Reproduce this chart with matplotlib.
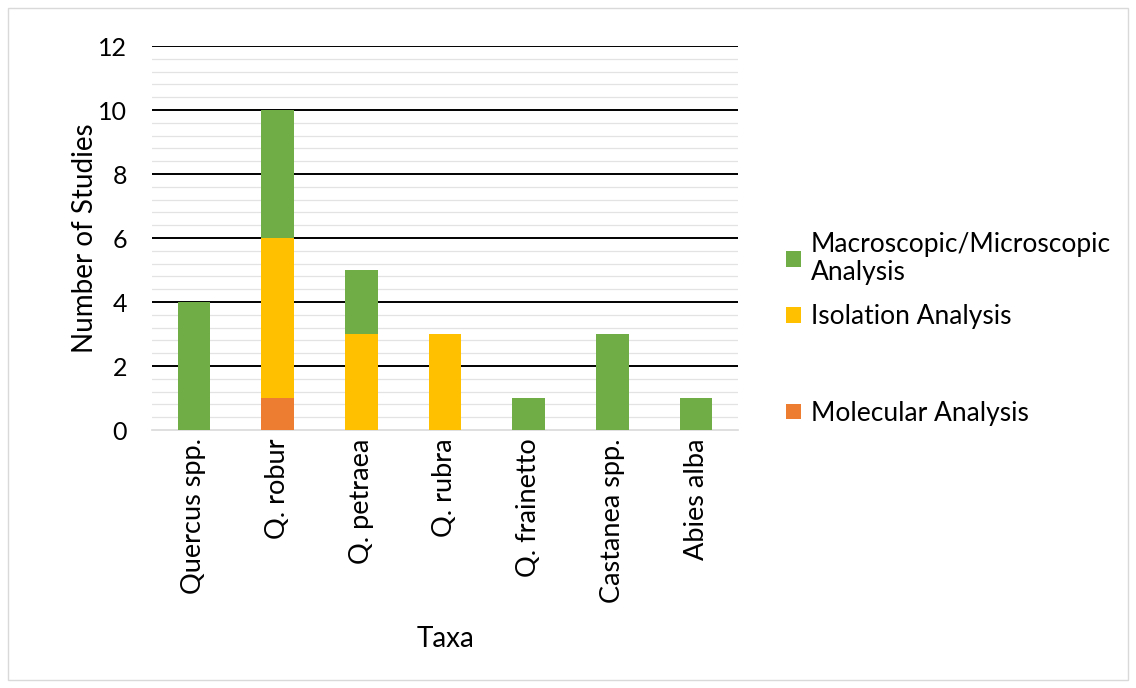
import numpy as np
import matplotlib.pyplot as plt
from matplotlib.patches import Rectangle, Patch

taxa = ['Quercus spp.', 'Q. robur', 'Q. petraea', 'Q. rubra',
        'Q. frainetto', 'Castanea spp.', 'Abies alba']
molecular = [0, 1, 0, 0, 0, 0, 0]
isolation = [0, 5, 3, 3, 0, 0, 0]
macro = [4, 4, 2, 0, 1, 3, 1]

c_mol, c_iso, c_mac = '#ED7D31', '#FFC000', '#70AD47'

plt.rcParams['font.family'] = ['Lato', 'DejaVu Sans']

W, H = 1136, 688
fig = plt.figure(figsize=(W / 100, H / 100), dpi=100)
ax = fig.add_axes([152 / W, 1 - 430 / H, 586 / W, 384 / H])

x = np.arange(len(taxa))
w = 0.39
mol = np.array(molecular)
iso = np.array(isolation)
mac = np.array(macro)
ax.bar(x, mol, w, color=c_mol, zorder=3)
ax.bar(x, iso, w, bottom=mol, color=c_iso, zorder=3)
ax.bar(x, mac, w, bottom=mol + iso, color=c_mac, zorder=3)

ax.set_xlim(-0.5, len(taxa) - 0.5)
ax.set_ylim(0, 12)
ax.set_yticks(np.arange(0, 13, 2))
ax.tick_params(axis='y', length=0, labelsize=18, pad=18)
ax.tick_params(axis='x', length=0, labelsize=19.5, pad=6)
ax.set_xticks(x)
ax.set_xticklabels(taxa, rotation=90)

# light minor lines every 0.4, black major lines every 2
for v in np.arange(0.4, 12.01, 0.4):
    if abs(v / 2 - round(v / 2)) > 1e-6:
        ax.axhline(v, color='#E3E3E3', lw=0.9, zorder=1)
for v in range(2, 13, 2):
    ax.axhline(v, color='black', lw=1.4, zorder=2)

for s in ['top', 'right', 'left']:
    ax.spines[s].set_visible(False)
ax.spines['bottom'].set_color('#D9D9D9')
ax.spines['bottom'].set_linewidth(1.2)

ax.set_ylabel('Number of Studies', fontsize=20, labelpad=0)
ax.set_xlabel('Taxa', fontsize=20, labelpad=17)

# one legend, with an empty spacer row to open the gap before the last entry
handles = [Patch(facecolor=c_mac, edgecolor='none'),
           Patch(facecolor=c_iso, edgecolor='none'),
           Patch(facecolor='none', edgecolor='none'),
           Patch(facecolor=c_mol, edgecolor='none')]
labels = ['Macroscopic/Microscopic\nAnalysis', 'Isolation Analysis', ' ',
          'Molecular Analysis']
leg = fig.legend(handles, labels, loc='upper left',
                 bbox_to_anchor=(786 / W, 1 - 232 / H),
                 frameon=False, fontsize=19, borderpad=0, borderaxespad=0,
                 handlelength=0.55, handleheight=0.55, handletextpad=0.4,
                 labelspacing=0.73)
texts = leg.get_texts()
texts[0].set_linespacing(1.15)
texts[2].set_fontsize(26)

fig.add_artist(Rectangle((8 / W, 8 / H), 1120 / W, 672 / H,
                         transform=fig.transFigure, fill=False,
                         edgecolor='#D9D9D9', lw=1))

fig.savefig('out.png', dpi=100)
